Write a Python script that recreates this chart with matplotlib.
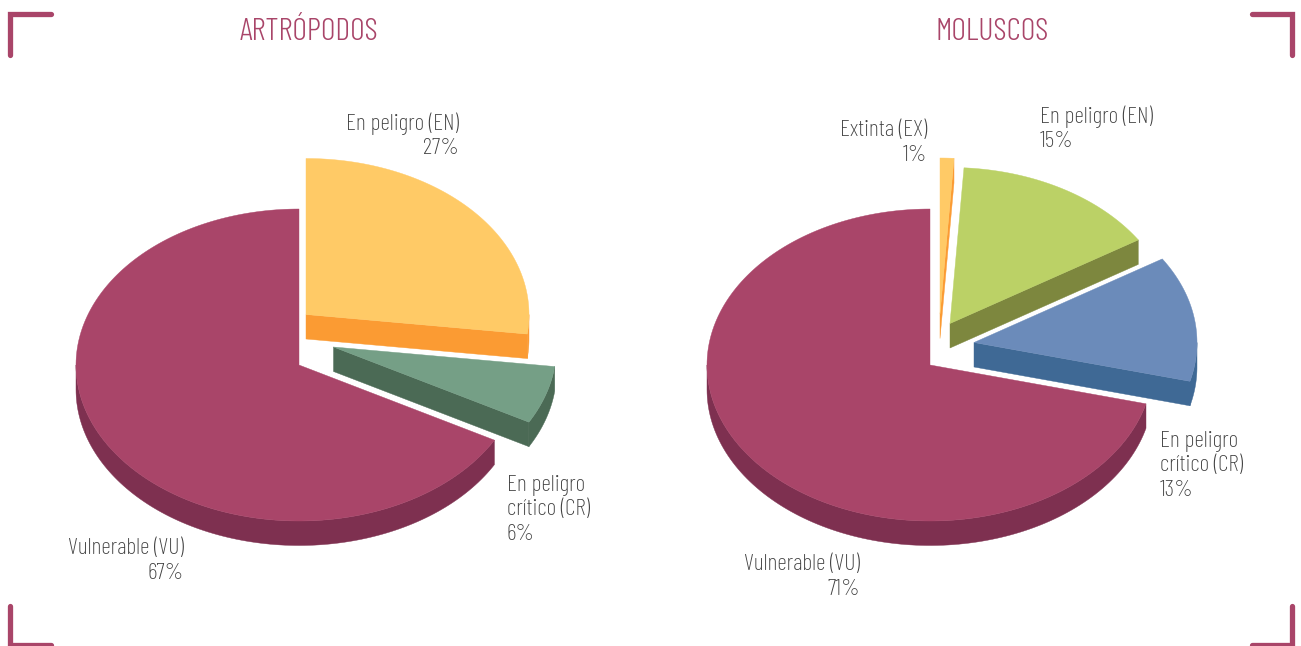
import matplotlib
matplotlib.use('Agg')
import matplotlib.pyplot as plt
from matplotlib.patches import Polygon
import numpy as np

plt.rcParams['font.family'] = ['Barlow Condensed', 'Roboto', 'DejaVu Sans']

# datos (% por categoría, empezando a las 12 en sentido horario)
art_names = ['En peligro (EN)', 'En peligro\ncrítico (CR)', 'Vulnerable (VU)']
art_values = [27, 6, 67]
mol_names = ['Extinta (EX)', 'En peligro (EN)', 'En peligro\ncrítico (CR)', 'Vulnerable (VU)']
mol_values = [1, 15, 13, 71]

art_title = 'ARTRÓPODOS'
mol_title = 'MOLUSCOS'

# estilo
MAGENTA = '#A94569'
art_top = ['#FFCA66', '#759F86', MAGENTA]
art_side = ['#FB9B33', '#4B6A55', '#7E3050']
mol_top = ['#FFCA66', '#BBD166', '#6B8BBA', MAGENTA]
mol_side = ['#FB9B33', '#7D873E', '#3F6995', '#7E3050']

art_center = (299, 365)
art_offset = [(7, -50.5), (34.5, -18), (0, 0)]
mol_center = (930, 365)
mol_offset = [(10, -51), (20, -41.5), (44, -22.5), (0, 0)]

RX = 223
RY = 156
DEPTH = 24.5


def edge(cx, cy, t):
    return np.column_stack([cx + RX * np.sin(t), cy - RY * np.cos(t)])


def draw_slice(ax, cx, cy, t1, t2, top, side):
    apex = np.array([[cx, cy]])
    down = np.array([0, DEPTH])
    # borde exterior
    a, b = max(t1, np.pi / 2), min(t2, 3 * np.pi / 2)
    if a < b:
        rim = edge(cx, cy, np.linspace(a, b, 120))
        ax.add_patch(Polygon(np.vstack([rim, rim[::-1] + down]), fc=side, ec=side, lw=0.3))
    # paredes rectas
    if np.sin(t2) > 1e-6:
        p = edge(cx, cy, np.array([t2]))
        ax.add_patch(Polygon(np.vstack([apex, p, p + down, apex + down]), fc=side, ec=side, lw=0.3))
    if np.sin(t1) < -1e-6:
        p = edge(cx, cy, np.array([t1]))
        ax.add_patch(Polygon(np.vstack([apex, p, p + down, apex + down]), fc=side, ec=side, lw=0.3))
    arc = edge(cx, cy, np.linspace(t1, t2, 200))
    ax.add_patch(Polygon(np.vstack([apex, arc]), fc=top, ec=top, lw=0.3))


def draw_pie(ax, center, values, offsets, tops, sides):
    limits = np.cumsum([0] + list(values)) / sum(values) * 2 * np.pi
    for i in range(len(values)):
        draw_slice(ax, center[0] + offsets[i][0], center[1] + offsets[i][1],
                   limits[i], limits[i + 1], tops[i], sides[i])


fig = plt.figure(figsize=(13.01, 6.46), dpi=100)
ax = fig.add_axes([0, 0, 1, 1])
ax.set_xlim(0, 1301)
ax.set_ylim(646, 0)
ax.axis('off')

draw_pie(ax, art_center, art_values, art_offset, art_top, art_side)
draw_pie(ax, mol_center, mol_values, mol_offset, mol_top, mol_side)

# esquinas
corners = [([51, 10, 10], [14, 14, 55]),
           ([1252, 1292, 1292], [14, 14, 55]),
           ([10, 10, 51], [606, 645, 645]),
           ([1292, 1292, 1252], [606, 645, 645])]
for xs, ys in corners:
    ax.plot(xs, ys, color=MAGENTA, lw=3.8, solid_capstyle='round', solid_joinstyle='miter')

# títulos
title_style = dict(color=MAGENTA, fontsize=23, fontweight=300, stretch='condensed', ha='center', va='baseline')
ax.text(308.5, 40, art_title, **title_style)
ax.text(992.5, 40, mol_title, **title_style)

# etiquetas
label_style = dict(color='#404040', fontsize=17, fontweight=275, stretch='condensed', va='center', linespacing=1.21)
art_label_pos = [(459, 136, 'right'), (507, 510, 'left'), (184, 561, 'right')]
mol_label_pos = [(927, 143, 'right'), (1040, 129, 'left'), (1160, 466, 'left'), (860, 577, 'right')]
for names, values, positions in [(art_names, art_values, art_label_pos),
                                 (mol_names, mol_values, mol_label_pos)]:
    for name, val, (x, y, ha) in zip(names, values, positions):
        ax.text(x, y, f'{name}\n{val}%', ha=ha, ma=ha, **label_style)

fig.savefig('out.png', dpi=100, facecolor='white')
